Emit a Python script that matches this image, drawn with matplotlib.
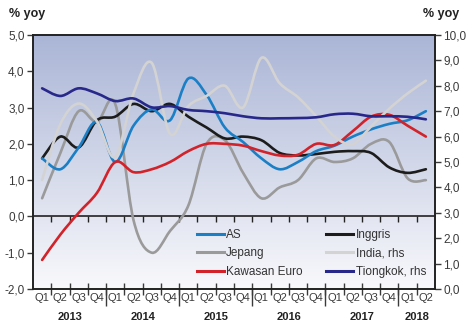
import numpy as np
import matplotlib.pyplot as plt
from matplotlib.path import Path
from matplotlib.patches import PathPatch
from matplotlib.lines import Line2D
from matplotlib.colors import LinearSegmentedColormap

plt.rcParams['font.family'] = ['Liberation Sans', 'DejaVu Sans']

# quarterly GDP growth, % yoy, 2013Q1 .. 2018Q2
quarters = ['Q1', 'Q2', 'Q3', 'Q4'] * 5 + ['Q1', 'Q2']
years = ['2013', '2014', '2015', '2016', '2017', '2018']

as_ = [1.6, 1.3, 1.9, 2.6, 1.5, 2.5, 2.95, 2.65, 3.8, 3.35, 2.45, 2.05,
       1.6, 1.3, 1.5, 1.8, 1.95, 2.2, 2.4, 2.55, 2.65, 2.9]
jepang = [0.5, 1.75, 2.9, 2.6, 3.1, -0.1, -1.0, -0.4, 0.3, 2.0, 2.1, 1.2,
          0.5, 0.8, 1.0, 1.6, 1.5, 1.6, 2.0, 2.05, 1.05, 1.0]
euro = [-1.2, -0.5, 0.1, 0.65, 1.5, 1.22, 1.3, 1.5, 1.8, 2.0, 2.0, 1.95,
        1.8, 1.68, 1.7, 2.0, 1.97, 2.35, 2.75, 2.8, 2.5, 2.2]
inggris = [1.6, 2.2, 1.9, 2.65, 2.75, 3.1, 2.9, 3.1, 2.75, 2.45, 2.15, 2.2,
           2.1, 1.75, 1.68, 1.72, 1.78, 1.8, 1.75, 1.35, 1.2, 1.3]
# right-hand scale
india = [4.3, 6.5, 7.3, 6.6, 5.2, 7.7, 8.9, 6.1, 7.2, 7.6, 8.0, 7.15,
         9.1, 8.1, 7.55, 6.8, 6.0, 5.7, 6.4, 7.1, 7.7, 8.2]
tiongkok = [7.9, 7.6, 7.9, 7.7, 7.4, 7.5, 7.15, 7.2, 7.05, 7.0, 6.92, 6.8,
            6.72, 6.72, 6.73, 6.76, 6.88, 6.9, 6.8, 6.8, 6.78, 6.68]

x = np.arange(len(quarters))


def smooth_path(xs, ys):
    # Catmull-Rom curve through the points, written as cubic Bezier segments
    pts = np.column_stack([xs, ys]).astype(float)
    ext = np.vstack([pts[0], pts, pts[-1]])
    verts = [pts[0]]
    codes = [Path.MOVETO]
    for i in range(len(pts) - 1):
        p0, p1, p2, p3 = ext[i], ext[i + 1], ext[i + 2], ext[i + 3]
        verts += [p1 + (p2 - p0) / 6, p2 - (p3 - p1) / 6, p2]
        codes += [Path.CURVE4] * 3
    return Path(verts, codes)


def draw(ax, ys, color, z):
    ax.add_patch(PathPatch(smooth_path(x, ys), fill=False, edgecolor=color,
                           lw=1.9, zorder=z, capstyle='round', joinstyle='round'))


fig = plt.figure(figsize=(4.66, 3.21), dpi=100)
ax = fig.add_axes([0.0708, 0.0997, 0.8627, 0.7913])
ax2 = ax.twinx()

# background gradient
cmap = LinearSegmentedColormap.from_list('bg', ['#f9f9fc', '#aab5d6'])
grad = np.linspace(0, 1, 256).reshape(-1, 1)
ax.imshow(grad, extent=(0, 1, 0, 1), transform=ax.transAxes, origin='lower',
          aspect='auto', cmap=cmap, zorder=0)

c_as, c_jp, c_eu = '#1b7fc6', '#9a9a9a', '#d2232a'
c_uk, c_in, c_cn = '#1c1c1c', '#d3d3d3', '#27288a'

draw(ax2, india, c_in, 2)
draw(ax, jepang, c_jp, 3)
draw(ax, inggris, c_uk, 4)
draw(ax, as_, c_as, 5)
draw(ax, euro, c_eu, 6)
draw(ax2, tiongkok, c_cn, 7)

ax.set_xlim(-0.5, len(quarters) - 0.5)
ax.set_ylim(-2, 5)
ax2.set_ylim(0, 10)

fmt = lambda v, p: f'{v:.1f}'.replace('.', ',')
ax.set_yticks(np.arange(-2, 6, 1))
ax.yaxis.set_major_formatter(fmt)
ax2.set_yticks(np.arange(0, 11, 1))
ax2.yaxis.set_major_formatter(fmt)

tick_col = '#3a3a3a'
ax.tick_params(axis='y', direction='out', length=4, width=1, labelsize=8.5,
               colors=tick_col, pad=2)
ax2.tick_params(axis='y', direction='out', length=4, width=1, labelsize=8.5,
                colors=tick_col, pad=2)

# quarter boundaries as ticks, quarter names as labels
bounds = np.arange(0.5, len(quarters) - 0.5, 1)
ax.set_xticks(bounds)
ax.set_xticklabels([])
ax.set_xticks(x, minor=True)
ax.set_xticklabels(quarters, minor=True)
ax.tick_params(axis='x', which='major', direction='inout', length=8, width=1,
               color=tick_col)
ax.tick_params(axis='x', which='minor', length=0, labelsize=8, colors=tick_col,
               pad=3)

# longer ticks between years
yr_bounds = np.arange(3.5, len(quarters) - 0.5, 4)
sec = ax.secondary_xaxis('bottom')
sec.set_xticks(yr_bounds)
sec.set_xticklabels([])
sec.tick_params(direction='out', length=12, width=1, color=tick_col)
sec.spines['bottom'].set_visible(False)

# zero line with its own tick marks
zero = ax.secondary_xaxis(2 / 7)
zero.set_xticks(bounds)
zero.set_xticklabels([])
zero.tick_params(direction='out', length=4, width=1, color='#222222')
zero.spines['bottom'].set_color('#222222')
zero.spines['bottom'].set_linewidth(1.2)

trans = ax.get_xaxis_transform()
for k, yr in enumerate(years):
    idx = [i for i in range(len(quarters)) if i // 4 == k]
    ax.text(np.mean(idx), -0.11, yr, transform=trans, ha='center', va='center',
            fontsize=8, fontweight='bold', color='#222222')

for a in (ax, ax2):
    for s in a.spines.values():
        s.set_color('#222222')
        s.set_linewidth(1.2)

fig.text(0.02, 0.955, '% yoy', fontsize=9, fontweight='bold', color='#222222',
         ha='left', va='center')
fig.text(0.985, 0.955, '% yoy', fontsize=9, fontweight='bold', color='#222222',
         ha='right', va='center')

handles = [Line2D([], [], color=c, lw=2.2) for c in
           (c_as, c_jp, c_eu, c_uk, c_in, c_cn)]
labels = ['AS', 'Jepang', 'Kawasan Euro', 'Inggris', 'India, rhs',
          'Tiongkok, rhs']
ax2.legend(handles, labels, ncol=2, loc='upper left',
           bbox_to_anchor=(0.395, 0.255), frameon=False, fontsize=8.5,
           handlelength=2.3, handletextpad=0.2, columnspacing=2.0,
           labelspacing=0.55, labelcolor='#333333', borderaxespad=0)

fig.savefig('out.png', dpi=100)
